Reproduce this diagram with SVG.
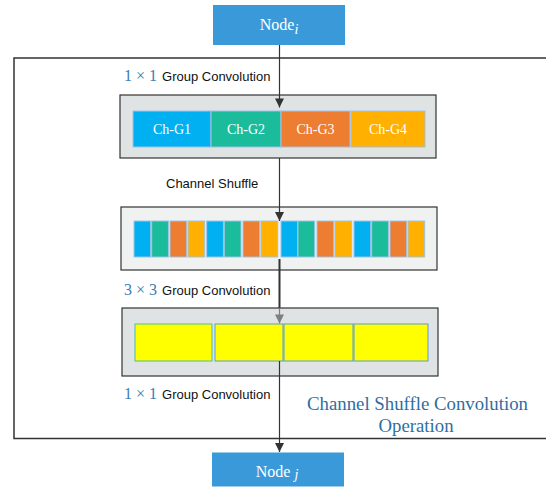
<svg xmlns="http://www.w3.org/2000/svg" width="546" height="487" viewBox="0 0 546 487">
<defs>
<style>
.node{fill:#3a9ad9}
.ntxt{font-family:"Liberation Serif",serif;font-size:16px;fill:#ffffff;text-anchor:middle}
.panel{stroke:#333333;stroke-width:1.2}
.cell{stroke:#9dc3e6;stroke-width:1}
.ctxt{font-family:"Liberation Serif",serif;font-size:14px;fill:#ffffff;text-anchor:middle}
.math{font-family:"Liberation Serif",serif;font-size:16px;fill:#3b7bb0}
.lbl{font-family:"Liberation Sans",sans-serif;font-size:13px;fill:#111111}
.title{font-family:"Liberation Serif",serif;font-size:18.8px;fill:#2e6ea0;text-anchor:middle}
.c1{fill:#00b0f0}.c2{fill:#1abc9c}.c3{fill:#ed7d31}.c4{fill:#ffb000}
.y{fill:#ffff00;stroke:#5b9bd5;stroke-width:1}
.conn{stroke:#333333;stroke-width:1.2;fill:none}
</style>
<marker id="ah" viewBox="0 0 10 10" refX="10" refY="5" markerWidth="10" markerHeight="9" markerUnits="userSpaceOnUse" orient="auto"><path d="M0,0 L10,5 L0,10 z" fill="#333333"/></marker>
<marker id="ahg" viewBox="0 0 10 10" refX="10" refY="5" markerWidth="10" markerHeight="9" markerUnits="userSpaceOnUse" orient="auto"><path d="M0,0 L10,5 L0,10 z" fill="#7f7f7f"/></marker>
</defs>
<rect width="546" height="487" fill="#ffffff"/>

<g id="frame">
<rect x="14" y="58" width="540" height="380.5" fill="none" stroke="#333333" stroke-width="1.5"/>
</g>

<g id="node-i">
<rect class="node" x="213" y="5" width="132" height="40"/>
<text class="ntxt" x="279" y="30">Node<tspan font-style="italic" font-size="14" dy="4">i</tspan></text>
</g>

<g id="label-1x1-top">
<text x="124" y="81"><tspan class="math">1 × 1</tspan><tspan class="lbl" dx="5">Group Convolution</tspan></text>
</g>

<g id="group-conv">
<rect class="panel" x="120" y="95" width="316" height="63" fill="#e0e3e3"/>
<rect class="cell c1" x="133" y="111" width="78" height="36"/>
<rect class="cell c2" x="211" y="111" width="70" height="36"/>
<rect class="cell c3" x="281" y="111" width="69" height="36"/>
<rect class="cell c4" x="351" y="111" width="74" height="36"/>
<text class="ctxt" x="172" y="134">Ch-G1</text>
<text class="ctxt" x="246" y="134">Ch-G2</text>
<text class="ctxt" x="315.5" y="134">Ch-G3</text>
<text class="ctxt" x="388" y="134">Ch-G4</text>
</g>

<g id="label-shuffle">
<text class="lbl" x="166" y="188">Channel Shuffle</text>
</g>

<g id="shuffled">
<rect class="panel" x="121" y="207" width="316" height="63" fill="#f0f2f2"/>
<rect class="cell c1" x="134" y="221" width="16.7" height="36"/>
<rect class="cell c2" x="151.7" y="221" width="16.7" height="36"/>
<rect class="cell c3" x="170" y="221" width="16.7" height="36"/>
<rect class="cell c4" x="188" y="221" width="16.7" height="36"/>
<rect class="cell c1" x="206.7" y="221" width="16.7" height="36"/>
<rect class="cell c2" x="224.3" y="221" width="16.7" height="36"/>
<rect class="cell c3" x="243" y="221" width="16.7" height="36"/>
<rect class="cell c4" x="261" y="221" width="16.7" height="36"/>
<rect class="cell c1" x="281" y="221" width="16.7" height="36"/>
<rect class="cell c2" x="298" y="221" width="16.7" height="36"/>
<rect class="cell c3" x="317" y="221" width="16.7" height="36"/>
<rect class="cell c4" x="335" y="221" width="16.7" height="36"/>
<rect class="cell c1" x="354" y="221" width="16.7" height="36"/>
<rect class="cell c2" x="371.7" y="221" width="16.7" height="36"/>
<rect class="cell c3" x="390" y="221" width="16.7" height="36"/>
<rect class="cell c4" x="408" y="221" width="16.7" height="36"/>
</g>

<g id="label-3x3">
<text x="124" y="295"><tspan class="math">3 × 3</tspan><tspan class="lbl" dx="5">Group Convolution</tspan></text>
</g>

<g id="conv3x3">
<rect class="panel" x="122" y="308" width="316" height="68" fill="#e0e3e3"/>
<rect class="y" x="135" y="324" width="77" height="37" style="stroke:#4cbf9a"/>
<rect class="y" x="215" y="324" width="68" height="37"/>
<rect class="y" x="284" y="324" width="69" height="37"/>
<rect class="y" x="354" y="324" width="74" height="37"/>
</g>

<g id="label-1x1-bottom">
<text x="124" y="399"><tspan class="math">1 × 1</tspan><tspan class="lbl" dx="5">Group Convolution</tspan></text>
</g>

<g id="caption">
<text class="title" x="417.5" y="410">Channel Shuffle Convolution</text>
<text class="title" x="416" y="431.5">Operation</text>
</g>

<g id="node-j">
<rect class="node" x="212" y="452.5" width="132" height="34"/>
<text class="ntxt" x="277" y="477">Node <tspan font-style="italic" font-size="14" dy="2">j</tspan></text>
</g>

<g id="connectors">
<line class="conn" x1="279.5" y1="45" x2="279.5" y2="107.5" marker-end="url(#ah)"/>
<line class="conn" x1="279.5" y1="158" x2="279.5" y2="221" marker-end="url(#ah)"/>
<line class="conn" x1="279.5" y1="259" x2="279.5" y2="308" style="stroke-width:2"/>
<line x1="279.5" y1="308" x2="279.5" y2="323.5" stroke="#7f7f7f" stroke-width="1.2" marker-end="url(#ahg)"/>
<line class="conn" x1="279.5" y1="361" x2="279.5" y2="452" marker-end="url(#ah)"/>
</g>
</svg>
